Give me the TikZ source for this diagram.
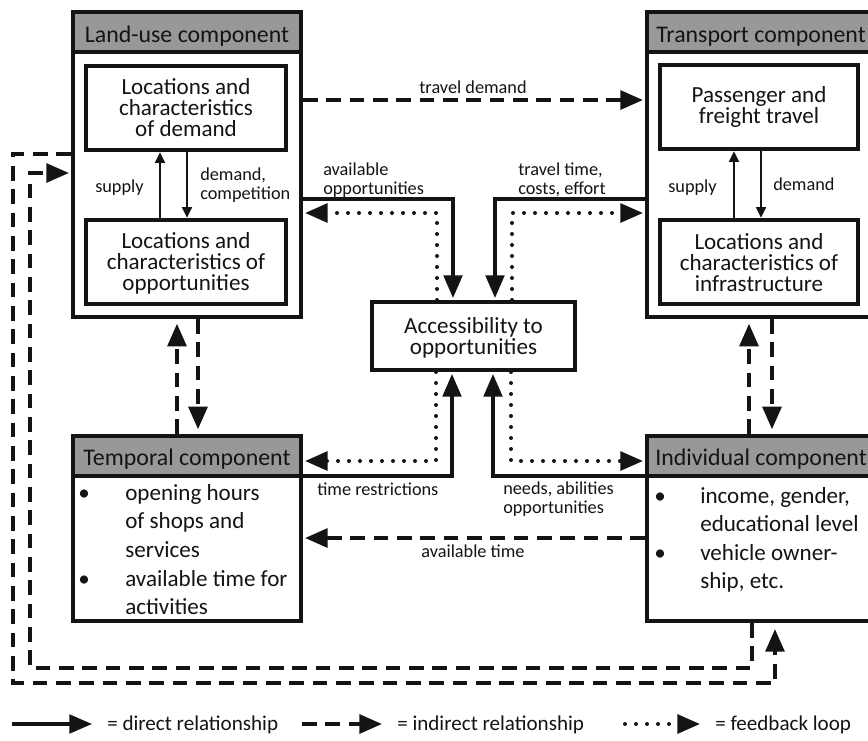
\documentclass[tikz,border=0pt]{standalone}
\usepackage{fontspec}
\setmainfont{Carlito}
\usetikzlibrary{arrows.meta,fit,calc}
\definecolor{hdrgray}{RGB}{152,152,152}
\definecolor{ink}{RGB}{20,20,20}
\tikzset{
  frame/.style={draw=ink, line width=3pt, inner sep=0pt},
  hdr/.style={draw=ink, fill=hdrgray, line width=3pt, inner sep=0pt},
  inbox/.style={draw=ink, line width=3.3pt, inner sep=0pt},
  big/.style={font=\fontsize{17.3}{15.75}\selectfont, align=center, inner sep=0pt, text=ink},
  bigl/.style={font=\fontsize{17.3}{15.75}\selectfont, inner sep=0pt, anchor=base west, text=ink},
  hdrtxt/.style={font=\fontsize{17.9}{18}\selectfont, inner sep=0pt, text=ink},
  small/.style={font=\fontsize{13.7}{14}\selectfont, inner sep=0pt, anchor=base west, text=ink},
  legtxt/.style={font=\fontsize{15.8}{18}\selectfont, inner sep=0pt, anchor=base west, text=ink},
  bigtip/.tip={Triangle[length=17pt,width=14pt]},
  direct/.style={draw=ink, line width=2.4pt, -bigtip, shorten >=1.5pt},
  indirect/.style={draw=ink, line width=3pt, dash pattern=on 11pt off 6.5pt, -bigtip, shorten >=1.5pt},
  feedback/.style={draw=ink, line width=3pt, line cap=round, dash pattern=on 0pt off 8.25pt, -bigtip, shorten >=1.5pt},
  thinarr/.style={draw=ink, line width=1.5pt, -{Triangle[length=8pt,width=7.5pt]}},
}
\begin{document}
\begin{tikzpicture}[x=0.75pt,y=-0.75pt]
\useasboundingbox (0,0) rectangle (868,740);
\fill[white] (0,0) rectangle (868,740);
\clip (0,0) rectangle (868,740);

% ---------- Land-use component ----------
\node[hdr, fit={(73,12)(301,52)}] (luh) {};
\node[frame, fit={(73,12)(301,317)}] (lu) {};
\node[hdrtxt, anchor=base] at (187,42) {Land-use component};
\node[inbox, fit={(86,66)(286,150)}] (lud) {};
\node[big] at (lud.center) {Locations and\\characteristics\\of demand};
\node[inbox, fit={(86,220)(286,304)}] (luo) {};
\node[big] at ($(luo.center)+(0,1)$) {Locations and\\characteristics of\\opportunities};
\draw[thinarr] (luo.north -| 160,0) -- (lud.south -| 160,0);
\draw[thinarr] (lud.south -| 187,0) -- (luo.north -| 187,0);
\node[small] at (95,192) {supply};
\node[small] at (200,180) {demand,};
\node[small] at (200,199) {competition};

% ---------- Transport component ----------
\node[hdr, fit={(647,12)(885,52)}] (trh) {};
\node[frame, fit={(647,12)(885,317)}] (tr) {};
\node[hdrtxt, anchor=base west] at (656,42) {Transport component};
\node[inbox, fit={(660,65)(858,149)}] (trp) {};
\node[big] at (trp.center) {Passenger and\\freight travel};
\node[inbox, fit={(660,220)(858,304)}] (tri) {};
\node[big] at ($(tri.center)+(0,1)$) {Locations and\\characteristics of\\infrastructure};
\draw[thinarr] (tri.north -| 734,0) -- (trp.south -| 734,0);
\draw[thinarr] (trp.south -| 761,0) -- (tri.north -| 761,0);
\node[small] at (668,192) {supply};
\node[small] at (773,190) {demand};

% ---------- Accessibility ----------
\node[frame, fit={(372,302)(575,370)}] (acc) {};
\node[big] at ($(acc.center)+(0,2)$) {Accessibility to\\opportunities};

% ---------- Temporal component ----------
\node[hdr, fit={(73,436)(301,476)}] (tmph) {};
\node[frame, fit={(73,436)(301,621)}] (tmp) {};
\node[hdrtxt, anchor=base] at (187,465) {Temporal component};
\node[bigl] at (78,500) {•};
\node[bigl] at (78,586) {•};
\node[bigl] at (125,500) {opening hours};
\node[bigl] at (125,528.7) {of shops and};
\node[bigl] at (125,557.4) {services};
\node[bigl] at (125,586) {available time for};
\node[bigl] at (125,614.8) {activities};

% ---------- Individual component ----------
\node[hdr, fit={(647,436)(885,476)}] (indh) {};
\node[frame, fit={(647,436)(885,621)}] (ind) {};
\node[hdrtxt, anchor=base west] at (655,465) {Individual component};
\node[bigl] at (654,503) {•};
\node[bigl] at (654,560) {•};
\node[bigl] at (700,503) {income, gender,};
\node[bigl] at (700,531.5) {educational level};
\node[bigl] at (700,560) {vehicle owner-};
\node[bigl] at (700,588.5) {ship, etc.};

% ---------- connectors, top ----------
\draw[indirect] (lu.east |- 0,100) -- (tr.west |- 0,100);
\node[small, anchor=base] at (473,93) {travel demand};

\draw[direct] (lu.east |- 0,199) -| (acc.north -| 453,0);
\draw[feedback] (acc.north -| 437,0) |- (lu.east |- 0,213);
\draw[direct] (tr.west |- 0,199) -| (acc.north -| 495,0);
\draw[feedback] (acc.north -| 512,0) |- (tr.west |- 0,213);
\node[small] at (323,175) {available};
\node[small] at (323,194) {opportunities};
\node[small] at (518,175) {travel time,};
\node[small] at (518,194) {costs, effort};

% ---------- connectors, bottom ----------
\draw[feedback] (acc.south -| 436,0) |- (tmp.east |- 0,461);
\draw[direct] (tmp.east |- 0,476) -| (acc.south -| 452,0);
\draw[direct] (ind.west |- 0,476) -| (acc.south -| 493,0);
\draw[feedback] (acc.south -| 511,0) |- (ind.west |- 0,461);
\node[small] at (317,495) {time restrictions};
\node[small] at (503,494) {needs, abilities};
\node[small] at (503,513) {opportunities};

\draw[indirect] (ind.west |- 0,538) -- (tmp.east |- 0,538);
\node[small, anchor=base] at (473,557) {available time};

% ---------- vertical links ----------
\draw[indirect, shorten >=3.5pt] (tmp.north -| 177,0) -- (lu.south -| 177,0);
\draw[indirect, shorten >=3.5pt] (lu.south -| 198,0) -- (tmp.north -| 198,0);
\draw[indirect, shorten >=3.5pt] (ind.north -| 749,0) -- (tr.south -| 749,0);
\draw[indirect, shorten >=3.5pt] (tr.south -| 772,0) -- (ind.north -| 772,0);

% ---------- outer loops ----------
\coordinate (o1) at (13,683);
\coordinate (i1) at (30,668);
\draw[indirect, shorten >=4.5pt] (lu.west |- 0,154) -| (o1) -| (ind.south -| 775,0);
\draw[indirect] (ind.south -| 752,0) |- (i1) |- (lu.west |- 0,173);

% ---------- legend ----------
\coordinate (la1) at (12,724);  \coordinate (lb1) at (92,724);
\coordinate (la2) at (302,724); \coordinate (lb2) at (382,724);
\coordinate (la3) at (625,724); \coordinate (lb3) at (700,724);
\draw[direct, shorten >=0pt] (la1) -- (lb1);
\draw[indirect, shorten >=0pt] (la2) -- (lb2);
\draw[feedback, shorten >=0pt] (la3) -- (lb3);
\node[legtxt] at (107,730) {= direct relationship};
\node[legtxt] at (397,730) {= indirect relationship};
\node[legtxt] at (715,730) {= feedback loop};
\end{tikzpicture}
\end{document}
